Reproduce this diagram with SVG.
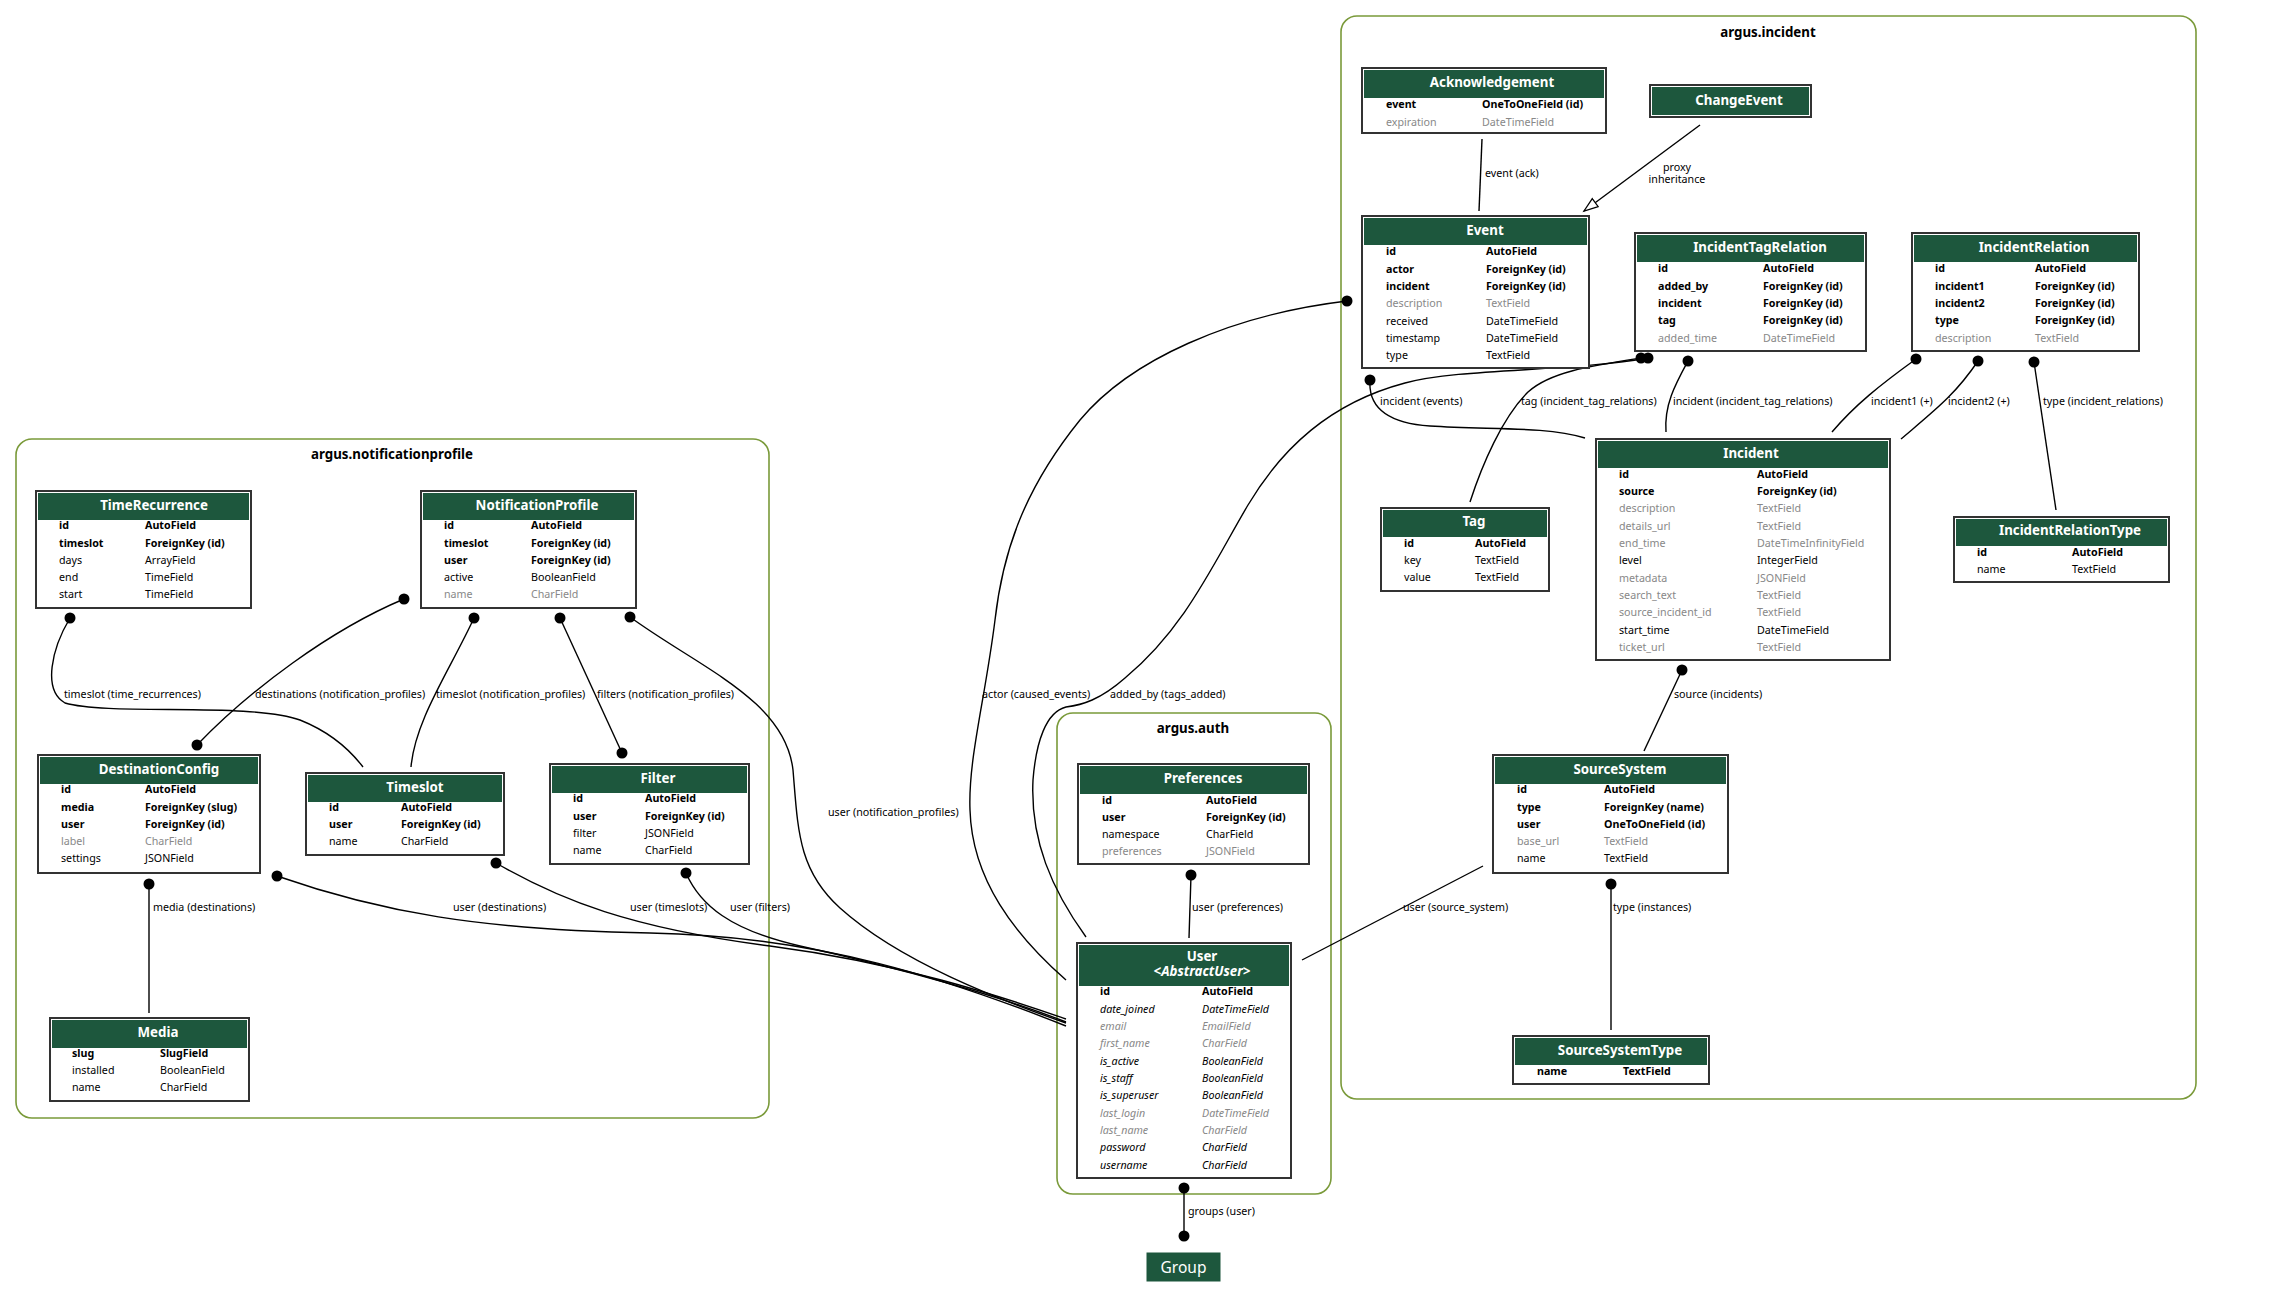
<svg xmlns="http://www.w3.org/2000/svg" width="2285" height="1295" viewBox="0 0 2285 1295">
<style>
text{font-family:"Noto Sans","Open Sans","DejaVu Sans",sans-serif;}
.cl{fill:none;stroke:#7a9a3a;stroke-width:1.6;}
.ct{font-size:13.3px;font-weight:bold;fill:#000;text-anchor:middle;}
.box{fill:#fff;stroke:#333;stroke-width:2;}
.hd{fill:#1d573d;}
.t{font-size:13.3px;font-weight:bold;fill:#fff;text-anchor:middle;}
.f{font-size:10.7px;fill:#000;}
.b{font-size:10.7px;fill:#000;font-weight:bold;}
.g{font-size:10.7px;fill:#888;}
.i{font-size:10.7px;fill:#000;font-style:italic;}
.gi{font-size:10.7px;fill:#888;font-style:italic;}
.e{fill:none;stroke:#000;stroke-width:1.4;}
.d{fill:#000;}
.l{font-size:10.7px;fill:#000;}
</style>
<defs>
<marker id="tri" markerUnits="userSpaceOnUse" markerWidth="18" markerHeight="14" refX="15" refY="6" orient="auto">
<path d="M1,1 L15,6 L1,11 Z" fill="#fff" stroke="#000" stroke-width="1.3"/>
</marker>
</defs>

<!-- clusters -->
<g id="cluster-incident">
<rect class="cl" x="1341" y="16" width="855" height="1083" rx="16"/>
<text class="ct" x="1768" y="37">argus.incident</text>
</g>
<g id="cluster-notificationprofile">
<rect class="cl" x="16" y="439" width="753" height="679" rx="16"/>
<text class="ct" x="392" y="459">argus.notificationprofile</text>
</g>
<g id="cluster-auth">
<rect class="cl" x="1057" y="713" width="274" height="481" rx="16"/>
<text class="ct" x="1193" y="733">argus.auth</text>
</g>

<!-- connectors -->
<g id="connectors">
<path class="e" d="M1482,139 L1479,211"/>
<path class="e" d="M1700,125 L1584,211" marker-end="url(#tri)"/>
<path class="e" d="M1370,380 C1368,408 1388,423 1430,426 C1490,430 1545,426 1585,438"/>
<path class="e" d="M1641,358 C1590,366 1550,372 1528,392 C1502,418 1482,465 1470,502"/>
<path class="e" d="M1648,358 C1570,372 1460,368 1405,383 C1330,403 1282,448 1248,505 C1212,566 1185,628 1125,678 C1100,700 1082,705 1066,707 C1046,712 1036,742 1033,780 C1030,840 1052,890 1086,937"/>
<path class="e" d="M1347,301 C1230,315 1130,360 1080,420 C1025,488 1003,550 995,620 C985,700 968,760 970,810 C972,880 1015,935 1066,980"/>
<path class="e" d="M630,617 C700,668 785,700 793,770 C798,830 798,870 840,908 C900,962 1000,1000 1066,1023"/>
<path class="e" d="M277,876 C380,912 480,930 650,933 C820,936 950,980 1066,1026"/>
<path class="e" d="M496,863 C560,900 630,928 770,946 C900,963 1000,996 1066,1019"/>
<path class="e" d="M686,873 C700,905 730,930 800,946 C900,968 1000,996 1066,1022"/>
<path class="e" d="M1191,875 L1189,938"/>
<path class="e" d="M1483,866 L1302,960"/>
<path class="e" d="M1611,884 L1611,1030"/>
<path class="e" d="M1184,1188 L1184,1236"/>
<path class="e" d="M1682,670 L1644,751"/>
<path class="e" d="M1688,361 C1675,385 1664,405 1666,432"/>
<path class="e" d="M1916,359 C1880,385 1855,405 1832,432"/>
<path class="e" d="M1978,361 C1955,395 1935,410 1901,439"/>
<path class="e" d="M2034,362 L2056,510"/>
<path class="e" d="M70,618 C52,648 42,690 65,703 C110,716 250,702 300,720 C330,732 350,750 363,767"/>
<path class="e" d="M404,599 C330,630 250,690 197,745"/>
<path class="e" d="M474,618 C450,670 415,720 411,767"/>
<path class="e" d="M560,618 L622,753"/>
<path class="e" d="M149,884 L149,1013"/>
<circle class="d" cx="1370" cy="380" r="5.5"/>
<circle class="d" cx="1641" cy="358" r="5.5"/>
<circle class="d" cx="1648" cy="358" r="5.5"/>
<circle class="d" cx="1347" cy="301" r="5.5"/>
<circle class="d" cx="630" cy="617" r="5.5"/>
<circle class="d" cx="277" cy="876" r="5.5"/>
<circle class="d" cx="496" cy="863" r="5.5"/>
<circle class="d" cx="686" cy="873" r="5.5"/>
<circle class="d" cx="1191" cy="875" r="5.5"/>
<circle class="d" cx="1611" cy="884" r="5.5"/>
<circle class="d" cx="1184" cy="1188" r="5.5"/>
<circle class="d" cx="1184" cy="1236" r="5.5"/>
<circle class="d" cx="1682" cy="670" r="5.5"/>
<circle class="d" cx="1688" cy="361" r="5.5"/>
<circle class="d" cx="1916" cy="359" r="5.5"/>
<circle class="d" cx="1978" cy="361" r="5.5"/>
<circle class="d" cx="2034" cy="362" r="5.5"/>
<circle class="d" cx="70" cy="618" r="5.5"/>
<circle class="d" cx="404" cy="599" r="5.5"/>
<circle class="d" cx="197" cy="745" r="5.5"/>
<circle class="d" cx="474" cy="618" r="5.5"/>
<circle class="d" cx="560" cy="618" r="5.5"/>
<circle class="d" cx="622" cy="753" r="5.5"/>
<circle class="d" cx="149" cy="884" r="5.5"/>
<text class="l" x="1485" y="177">event (ack)</text>
<text class="l" x="1677" y="171" text-anchor="middle">proxy</text>
<text class="l" x="1677" y="183" text-anchor="middle">inheritance</text>
<text class="l" x="1380" y="405">incident (events)</text>
<text class="l" x="1521" y="405">tag (incident_tag_relations)</text>
<text class="l" x="1673" y="405">incident (incident_tag_relations)</text>
<text class="l" x="1871" y="405">incident1 (+)</text>
<text class="l" x="1948" y="405">incident2 (+)</text>
<text class="l" x="2043" y="405">type (incident_relations)</text>
<text class="l" x="64" y="698">timeslot (time_recurrences)</text>
<text class="l" x="255" y="698">destinations (notification_profiles)</text>
<text class="l" x="436" y="698">timeslot (notification_profiles)</text>
<text class="l" x="597" y="698">filters (notification_profiles)</text>
<text class="l" x="982" y="698">actor (caused_events)</text>
<text class="l" x="1110" y="698">added_by (tags_added)</text>
<text class="l" x="1674" y="698">source (incidents)</text>
<text class="l" x="828" y="816">user (notification_profiles)</text>
<text class="l" x="153" y="911">media (destinations)</text>
<text class="l" x="453" y="911">user (destinations)</text>
<text class="l" x="630" y="911">user (timeslots)</text>
<text class="l" x="730" y="911">user (filters)</text>
<text class="l" x="1192" y="911">user (preferences)</text>
<text class="l" x="1403" y="911">user (source_system)</text>
<text class="l" x="1613" y="911">type (instances)</text>
<text class="l" x="1188" y="1215">groups (user)</text>
</g>

<!-- nodes: argus.incident -->
<g id="Acknowledgement">
<rect class="box" x="1362" y="68" width="244" height="65"/>
<rect class="hd" x="1364" y="70" width="240" height="28"/>
<text class="t" x="1492" y="87">Acknowledgement</text>
<text class="b" x="1386" y="108">event</text><text class="b" x="1482" y="108">OneToOneField (id)</text>
<text class="g" x="1386" y="126">expiration</text><text class="g" x="1482" y="126">DateTimeField</text>
</g>
<g id="ChangeEvent">
<rect class="box" x="1650" y="85" width="161" height="32"/>
<rect class="hd" x="1652" y="87" width="157" height="28"/>
<text class="t" x="1739" y="105">ChangeEvent</text>
</g>
<g id="Event">
<rect class="box" x="1362" y="216" width="227" height="152"/>
<rect class="hd" x="1364" y="218" width="223" height="27"/>
<text class="t" x="1485" y="235">Event</text>
<text class="b" x="1386" y="255">id</text><text class="b" x="1486" y="255">AutoField</text>
<text class="b" x="1386" y="272.5">actor</text><text class="b" x="1486" y="272.5">ForeignKey (id)</text>
<text class="b" x="1386" y="290">incident</text><text class="b" x="1486" y="290">ForeignKey (id)</text>
<text class="g" x="1386" y="307">description</text><text class="g" x="1486" y="307">TextField</text>
<text class="f" x="1386" y="324.5">received</text><text class="f" x="1486" y="324.5">DateTimeField</text>
<text class="f" x="1386" y="342">timestamp</text><text class="f" x="1486" y="342">DateTimeField</text>
<text class="f" x="1386" y="359">type</text><text class="f" x="1486" y="359">TextField</text>
</g>
<g id="IncidentTagRelation">
<rect class="box" x="1635" y="233" width="231" height="118"/>
<rect class="hd" x="1637" y="235" width="227" height="27"/>
<text class="t" x="1760" y="252">IncidentTagRelation</text>
<text class="b" x="1658" y="272">id</text><text class="b" x="1763" y="272">AutoField</text>
<text class="b" x="1658" y="289.5">added_by</text><text class="b" x="1763" y="289.5">ForeignKey (id)</text>
<text class="b" x="1658" y="307">incident</text><text class="b" x="1763" y="307">ForeignKey (id)</text>
<text class="b" x="1658" y="324">tag</text><text class="b" x="1763" y="324">ForeignKey (id)</text>
<text class="g" x="1658" y="341.5">added_time</text><text class="g" x="1763" y="341.5">DateTimeField</text>
</g>
<g id="IncidentRelation">
<rect class="box" x="1912" y="233" width="227" height="118"/>
<rect class="hd" x="1914" y="235" width="223" height="27"/>
<text class="t" x="2034" y="252">IncidentRelation</text>
<text class="b" x="1935" y="272">id</text><text class="b" x="2035" y="272">AutoField</text>
<text class="b" x="1935" y="289.5">incident1</text><text class="b" x="2035" y="289.5">ForeignKey (id)</text>
<text class="b" x="1935" y="307">incident2</text><text class="b" x="2035" y="307">ForeignKey (id)</text>
<text class="b" x="1935" y="324">type</text><text class="b" x="2035" y="324">ForeignKey (id)</text>
<text class="g" x="1935" y="341.5">description</text><text class="g" x="2035" y="341.5">TextField</text>
</g>
<g id="Incident">
<rect class="box" x="1596" y="439" width="294" height="221"/>
<rect class="hd" x="1598" y="441" width="290" height="27"/>
<text class="t" x="1751" y="458">Incident</text>
<text class="b" x="1619" y="477.5">id</text><text class="b" x="1757" y="477.5">AutoField</text>
<text class="b" x="1619" y="495">source</text><text class="b" x="1757" y="495">ForeignKey (id)</text>
<text class="g" x="1619" y="512">description</text><text class="g" x="1757" y="512">TextField</text>
<text class="g" x="1619" y="529.5">details_url</text><text class="g" x="1757" y="529.5">TextField</text>
<text class="g" x="1619" y="547">end_time</text><text class="g" x="1757" y="547">DateTimeInfinityField</text>
<text class="f" x="1619" y="564">level</text><text class="f" x="1757" y="564">IntegerField</text>
<text class="g" x="1619" y="581.5">metadata</text><text class="g" x="1757" y="581.5">JSONField</text>
<text class="g" x="1619" y="599">search_text</text><text class="g" x="1757" y="599">TextField</text>
<text class="g" x="1619" y="616">source_incident_id</text><text class="g" x="1757" y="616">TextField</text>
<text class="f" x="1619" y="633.5">start_time</text><text class="f" x="1757" y="633.5">DateTimeField</text>
<text class="g" x="1619" y="651">ticket_url</text><text class="g" x="1757" y="651">TextField</text>
</g>
<g id="Tag">
<rect class="box" x="1381" y="508" width="168" height="83"/>
<rect class="hd" x="1383" y="510" width="164" height="27"/>
<text class="t" x="1474" y="526">Tag</text>
<text class="b" x="1404" y="547">id</text><text class="b" x="1475" y="547">AutoField</text>
<text class="f" x="1404" y="564">key</text><text class="f" x="1475" y="564">TextField</text>
<text class="f" x="1404" y="581">value</text><text class="f" x="1475" y="581">TextField</text>
</g>
<g id="IncidentRelationType">
<rect class="box" x="1954" y="517" width="215" height="65"/>
<rect class="hd" x="1956" y="519" width="211" height="27"/>
<text class="t" x="2070" y="535">IncidentRelationType</text>
<text class="b" x="1977" y="556">id</text><text class="b" x="2072" y="556">AutoField</text>
<text class="f" x="1977" y="573">name</text><text class="f" x="2072" y="573">TextField</text>
</g>
<g id="SourceSystem">
<rect class="box" x="1493" y="755" width="235" height="118"/>
<rect class="hd" x="1495" y="757" width="231" height="27"/>
<text class="t" x="1620" y="774">SourceSystem</text>
<text class="b" x="1517" y="793">id</text><text class="b" x="1604" y="793">AutoField</text>
<text class="b" x="1517" y="811">type</text><text class="b" x="1604" y="811">ForeignKey (name)</text>
<text class="b" x="1517" y="828">user</text><text class="b" x="1604" y="828">OneToOneField (id)</text>
<text class="g" x="1517" y="845">base_url</text><text class="g" x="1604" y="845">TextField</text>
<text class="f" x="1517" y="862">name</text><text class="f" x="1604" y="862">TextField</text>
</g>
<g id="SourceSystemType">
<rect class="box" x="1513" y="1036" width="196" height="48"/>
<rect class="hd" x="1515" y="1038" width="192" height="27"/>
<text class="t" x="1620" y="1055">SourceSystemType</text>
<text class="b" x="1537" y="1075">name</text><text class="b" x="1623" y="1075">TextField</text>
</g>

<!-- nodes: argus.auth -->
<g id="Preferences">
<rect class="box" x="1078" y="764" width="231" height="100"/>
<rect class="hd" x="1080" y="766" width="227" height="28"/>
<text class="t" x="1203" y="783">Preferences</text>
<text class="b" x="1102" y="803.5">id</text><text class="b" x="1206" y="803.5">AutoField</text>
<text class="b" x="1102" y="821">user</text><text class="b" x="1206" y="821">ForeignKey (id)</text>
<text class="f" x="1102" y="838">namespace</text><text class="f" x="1206" y="838">CharField</text>
<text class="g" x="1102" y="855">preferences</text><text class="g" x="1206" y="855">JSONField</text>
</g>
<g id="User">
<rect class="box" x="1077" y="943" width="214" height="235"/>
<rect class="hd" x="1079" y="945" width="210" height="41"/>
<text class="t" x="1202" y="961">User</text>
<text class="t" x="1202" y="976" font-style="italic">&lt;AbstractUser&gt;</text>
<text class="b" x="1100" y="995">id</text><text class="b" x="1202" y="995">AutoField</text>
<text class="i" x="1100" y="1012.5">date_joined</text><text class="i" x="1202" y="1012.5">DateTimeField</text>
<text class="gi" x="1100" y="1030">email</text><text class="gi" x="1202" y="1030">EmailField</text>
<text class="gi" x="1100" y="1047">first_name</text><text class="gi" x="1202" y="1047">CharField</text>
<text class="i" x="1100" y="1064.5">is_active</text><text class="i" x="1202" y="1064.5">BooleanField</text>
<text class="i" x="1100" y="1082">is_staff</text><text class="i" x="1202" y="1082">BooleanField</text>
<text class="i" x="1100" y="1099">is_superuser</text><text class="i" x="1202" y="1099">BooleanField</text>
<text class="gi" x="1100" y="1116.5">last_login</text><text class="gi" x="1202" y="1116.5">DateTimeField</text>
<text class="gi" x="1100" y="1134">last_name</text><text class="gi" x="1202" y="1134">CharField</text>
<text class="i" x="1100" y="1151">password</text><text class="i" x="1202" y="1151">CharField</text>
<text class="i" x="1100" y="1168.5">username</text><text class="i" x="1202" y="1168.5">CharField</text>
</g>
<g id="Group">
<rect class="hd" x="1147" y="1253" width="73" height="28" stroke="#1d573d"/>
<text x="1183.5" y="1273" font-size="15.5" fill="#fff" text-anchor="middle">Group</text>
</g>

<!-- nodes: argus.notificationprofile -->
<g id="TimeRecurrence">
<rect class="box" x="36" y="491" width="215" height="117"/>
<rect class="hd" x="38" y="493" width="211" height="27"/>
<text class="t" x="154" y="510">TimeRecurrence</text>
<text class="b" x="59" y="529">id</text><text class="b" x="145" y="529">AutoField</text>
<text class="b" x="59" y="546.5">timeslot</text><text class="b" x="145" y="546.5">ForeignKey (id)</text>
<text class="f" x="59" y="564">days</text><text class="f" x="145" y="564">ArrayField</text>
<text class="f" x="59" y="581">end</text><text class="f" x="145" y="581">TimeField</text>
<text class="f" x="59" y="598">start</text><text class="f" x="145" y="598">TimeField</text>
</g>
<g id="NotificationProfile">
<rect class="box" x="421" y="491" width="215" height="117"/>
<rect class="hd" x="423" y="493" width="211" height="27"/>
<text class="t" x="537" y="510">NotificationProfile</text>
<text class="b" x="444" y="529">id</text><text class="b" x="531" y="529">AutoField</text>
<text class="b" x="444" y="546.5">timeslot</text><text class="b" x="531" y="546.5">ForeignKey (id)</text>
<text class="b" x="444" y="564">user</text><text class="b" x="531" y="564">ForeignKey (id)</text>
<text class="f" x="444" y="581">active</text><text class="f" x="531" y="581">BooleanField</text>
<text class="g" x="444" y="598">name</text><text class="g" x="531" y="598">CharField</text>
</g>
<g id="DestinationConfig">
<rect class="box" x="38" y="755" width="222" height="118"/>
<rect class="hd" x="40" y="757" width="218" height="27"/>
<text class="t" x="159" y="774">DestinationConfig</text>
<text class="b" x="61" y="793">id</text><text class="b" x="145" y="793">AutoField</text>
<text class="b" x="61" y="811">media</text><text class="b" x="145" y="811">ForeignKey (slug)</text>
<text class="b" x="61" y="828">user</text><text class="b" x="145" y="828">ForeignKey (id)</text>
<text class="g" x="61" y="845">label</text><text class="g" x="145" y="845">CharField</text>
<text class="f" x="61" y="862">settings</text><text class="f" x="145" y="862">JSONField</text>
</g>
<g id="Timeslot">
<rect class="box" x="306" y="773" width="198" height="82"/>
<rect class="hd" x="308" y="775" width="194" height="27"/>
<text class="t" x="415" y="792">Timeslot</text>
<text class="b" x="329" y="811">id</text><text class="b" x="401" y="811">AutoField</text>
<text class="b" x="329" y="828">user</text><text class="b" x="401" y="828">ForeignKey (id)</text>
<text class="f" x="329" y="845">name</text><text class="f" x="401" y="845">CharField</text>
</g>
<g id="Filter">
<rect class="box" x="550" y="764" width="199" height="100"/>
<rect class="hd" x="552" y="766" width="195" height="27"/>
<text class="t" x="658" y="783">Filter</text>
<text class="b" x="573" y="802">id</text><text class="b" x="645" y="802">AutoField</text>
<text class="b" x="573" y="820">user</text><text class="b" x="645" y="820">ForeignKey (id)</text>
<text class="f" x="573" y="837">filter</text><text class="f" x="645" y="837">JSONField</text>
<text class="f" x="573" y="854">name</text><text class="f" x="645" y="854">CharField</text>
</g>
<g id="Media">
<rect class="box" x="50" y="1018" width="199" height="83"/>
<rect class="hd" x="52" y="1020" width="195" height="28"/>
<text class="t" x="158" y="1037">Media</text>
<text class="b" x="72" y="1057">slug</text><text class="b" x="160" y="1057">SlugField</text>
<text class="f" x="72" y="1074">installed</text><text class="f" x="160" y="1074">BooleanField</text>
<text class="f" x="72" y="1091">name</text><text class="f" x="160" y="1091">CharField</text>
</g>
</svg>
